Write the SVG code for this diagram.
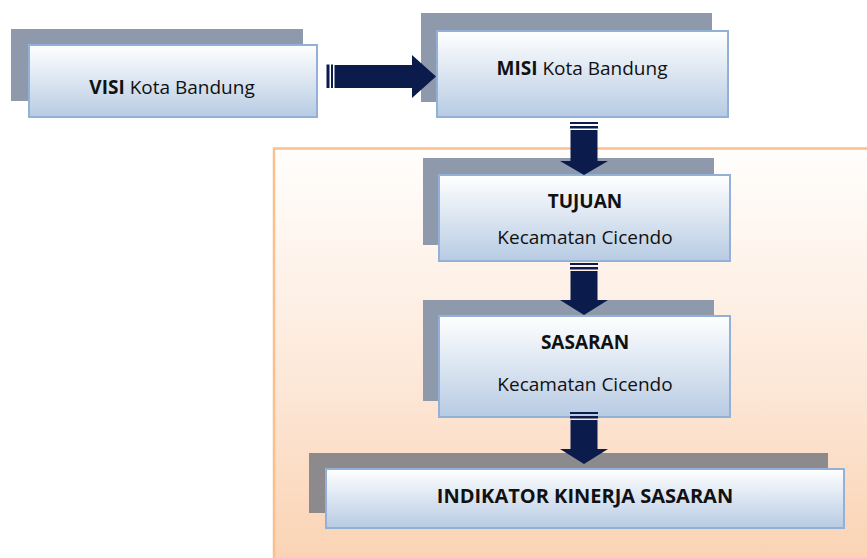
<svg xmlns="http://www.w3.org/2000/svg" width="867" height="558" viewBox="0 0 867 558">
  <defs>
    <linearGradient id="boxFill" x1="0" y1="0" x2="0" y2="1">
      <stop offset="0" stop-color="#FFFFFF"/>
      <stop offset="1" stop-color="#B7CBE3"/>
    </linearGradient>
    <linearGradient id="panelFill" x1="0" y1="0" x2="0" y2="1">
      <stop offset="0" stop-color="#FFFEFD"/>
      <stop offset="0.5" stop-color="#FDEADC"/>
      <stop offset="1" stop-color="#FAD2B2"/>
    </linearGradient>
    <style>
      .shadow { fill: #8E9AAB; }
      .shadow2 { fill: #8C8A8D; }
      .box { fill: url(#boxFill); stroke: #93B1D6; stroke-width: 2; }
      .t { font-family: "Open Sans", "Noto Sans", "Liberation Sans", sans-serif; font-size: 19px; fill: #111111; text-anchor: middle; }
      .b { font-weight: bold; }
      .arrow { fill: #0B1B4B; }
    </style>
  </defs>
  <rect width="867" height="558" fill="#FFFFFF"/>
  <!-- background panel -->
  <rect x="274" y="148.5" width="600" height="420" fill="url(#panelFill)" stroke="#FAC08F" stroke-width="2.5"/>

  <g id="visi">
    <rect class="shadow" x="11" y="29" width="292" height="72"/>
    <rect class="box" x="29" y="45" width="288" height="72"/>
    <text class="t" x="172" y="94"><tspan class="b">VISI</tspan> Kota Bandung</text>
  </g>
  <g id="misi">
    <rect class="shadow" x="421" y="13" width="291" height="89"/>
    <rect class="box" x="437" y="31" width="291" height="86"/>
    <text class="t" x="582" y="75"><tspan class="b">MISI</tspan> Kota Bandung</text>
  </g>
  <g id="tujuan">
    <rect class="shadow" x="423" y="158" width="291" height="87"/>
    <rect class="box" x="439" y="175" width="291" height="86"/>
    <text class="t b" x="585" y="208">TUJUAN</text>
    <text class="t" x="585" y="244">Kecamatan Cicendo</text>
  </g>
  <g id="sasaran">
    <rect class="shadow" x="423" y="300" width="291" height="101" fill="#8E97A5"/>
    <rect class="box" x="439" y="316" width="291" height="101"/>
    <text class="t b" x="585" y="349">SASARAN</text>
    <text class="t" x="585" y="391">Kecamatan Cicendo</text>
  </g>
  <g id="indikator">
    <rect class="shadow2" x="309" y="453" width="519" height="60"/>
    <rect class="box" x="326" y="469" width="518" height="59"/>
    <text class="t b" x="585" y="503" style="font-size:20px">INDIKATOR KINERJA SASARAN</text>
  </g>

  <g id="connectors">
    <!-- VISI -> MISI -->
    <g class="arrow">
      <rect x="326.5" y="64.5" width="3" height="23.5"/>
      <rect x="331" y="64.5" width="2" height="23.5"/>
      <path d="M334.5 65 L412 65 L412 55 L436 76.5 L412 98 L412 88 L334.5 88 Z"/>
    </g>
    <!-- MISI -> TUJUAN -->
    <g class="arrow">
      <rect x="570" y="122" width="28" height="2"/>
      <rect x="570" y="126" width="28" height="2.5"/>
      <path d="M570.5 130 L597.5 130 L597.5 161 L608 161 L584 175 L560 161 L570.5 161 Z"/>
    </g>
    <!-- TUJUAN -> SASARAN -->
    <g class="arrow">
      <rect x="570" y="263" width="28" height="2"/>
      <rect x="570" y="267" width="28" height="2.5"/>
      <path d="M570.5 271 L597.5 271 L597.5 300 L608 300 L584 315 L560 300 L570.5 300 Z"/>
    </g>
    <!-- SASARAN -> INDIKATOR -->
    <g class="arrow">
      <rect x="570" y="412" width="28" height="2"/>
      <rect x="570" y="416" width="28" height="2.5"/>
      <path d="M570.5 420 L597.5 420 L597.5 449 L608 449 L584 464 L560 449 L570.5 449 Z"/>
    </g>
  </g>
</svg>
